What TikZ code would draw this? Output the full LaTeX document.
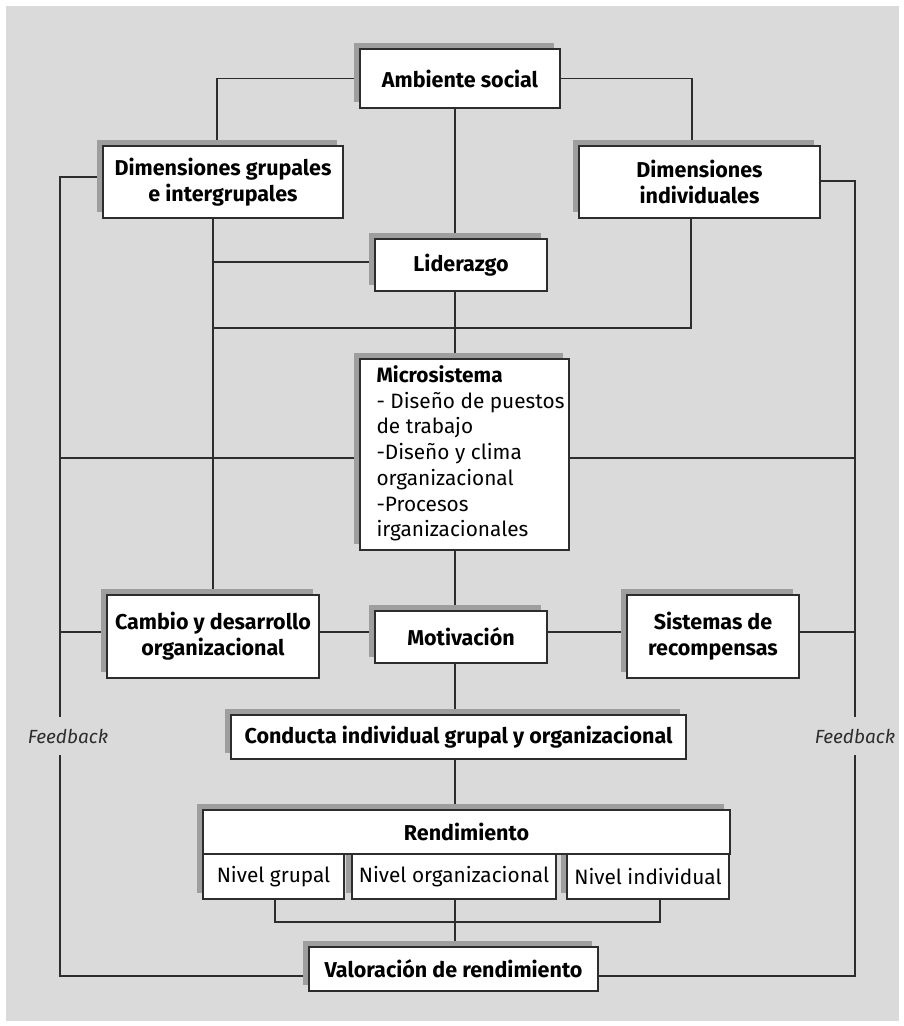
\documentclass[tikz,border=0pt]{standalone}
\usepackage{fontspec}
\setmainfont{Fira Sans}
\usetikzlibrary{positioning, backgrounds, shadows}
\definecolor{panelgray}{RGB}{218, 218, 218}
\definecolor{shadowgray}{RGB}{158, 158, 158}
\definecolor{linegray}{RGB}{45, 45, 45}
\tikzset{
    box/.style={draw=linegray, line width=1.2pt, fill=white, align=center, inner sep=0pt, font=\fontsize{21.5}{26}\selectfont\bfseries, drop shadow={shadow xshift=-6pt, shadow yshift=6pt, fill=shadowgray, opacity=1}},
    plainbox/.style={box, font=\fontsize{20.8}{25.7}\selectfont},
    boxdim/.style 2 args={minimum width=#1, minimum height=#2},
    link/.style={draw=linegray, line width=1.2pt},
    fb/.style={font=\fontsize{19}{26}\selectfont\itshape, text=linegray, inner xsep=2pt, inner ysep=12pt}
}

\begin{document}
\begin{tikzpicture}[x=1pt, y=-1pt]
\useasboundingbox (0,0) rectangle (903,1026);
\begin{scope}[on background layer]
\fill[panelgray] (6,6) rectangle (899,1021);
\end{scope}

% Entorno y dimensiones
\node[box, boxdim={200pt}{59pt}] (amb) at (460,78.5) {Ambiente social};
\node[box, boxdim={240pt}{72pt}] (dimg) at (223,182) {Dimensiones grupales\\e intergrupales};
\node[box, boxdim={241pt}{72pt}] (dimi) at (699.5,182) {Dimensiones\\individuales};
\node[box, boxdim={172pt}{52pt}] (lid) at (461,265) {Liderazgo};

% Microsistema
\node[plainbox, boxdim={209pt}{191pt}] (micro) at (464.5,454.5) {\begin{tabular}{@{\hspace{12pt}}l@{}}\textbf{Microsistema}\\- Diseño de puestos\\de trabajo\\-Diseño y clima\\organizacional\\-Procesos\\irganizacionales\end{tabular}};

% Fila de motivacion
\node[box, boxdim={212pt}{83pt}] (cambio) at (213,636.5) {Cambio y desarrollo\\organizacional};
\node[box, boxdim={172pt}{52pt}] (motiv) at (461,637) {Motivación};
\node[box, boxdim={172pt}{83pt}] (sist) at (713,636.5) {Sistemas de\\recompensas};
\node[box, boxdim={455pt}{44pt}] (cond) at (458.5,737) {Conducta individual grupal y organizacional};

% Rendimiento y niveles
\node[plainbox, boxdim={141pt}{45pt}] (ng) at (273.5,876.5) {Nivel grupal};
\node[plainbox, boxdim={204pt}{45pt}] (no) at (454,876.5) {Nivel organizacional};
\node[plainbox, boxdim={162pt}{45pt}] (ni) at (648,876.5) {Nivel individual};
\node[box, boxdim={527pt}{44pt}] (rend) at (466.5,832) {Rendimiento};
\node[box, boxdim={289pt}{44pt}] (val) at (453.5,969) {Valoración de rendimiento};

% Feedback
\node[fb] (fbl) at (68,736) {Feedback};
\node[fb] (fbr) at (855,736) {Feedback};

% columnas y filas de las lineas
\coordinate (axis) at (455,0);
\coordinate (railL) at (60,0);
\coordinate (railR) at (855,0);
\coordinate (colG) at (217,0);
\coordinate (colI) at (692,0);
\coordinate (colGb) at (213,0);
\coordinate (colIb) at (691,0);
\coordinate (colNg) at (275,0);
\coordinate (colNi) at (660,0);
\coordinate (rowG) at (0,177);
\coordinate (rowI) at (0,181);
\coordinate (rowL) at (0,262);
\coordinate (rowJ) at (0,328);
\coordinate (rowX) at (0,458);
\coordinate (rowM) at (0,632);
\coordinate (rowN) at (0,922);
\coordinate (rowV) at (0,976);

\begin{scope}[on background layer]
% ramas superiores
\draw[link] (amb.west) -| (colG |- dimg.north);
\draw[link] (amb.east) -| (colI |- dimi.north);
% eje central
\draw[link] (axis |- amb.south) -- (axis |- lid.north);
\draw[link] (axis |- lid.south) -- (axis |- micro.north);
\draw[link] (axis |- micro.south) -- (axis |- motiv.north);
\draw[link] (axis |- motiv.south) -- (axis |- cond.north);
\draw[link] (axis |- cond.south) -- (axis |- rend.north);
\draw[link] (axis |- no.south) -- (axis |- val.north);
% columna grupal
\draw[link] (colGb |- dimg.south) -- (colGb |- cambio.north);
\draw[link] (colGb |- rowL) -- (lid.west |- rowL);
\draw[link] (colGb |- rowJ) -| (colIb |- dimi.south);
% laterales de feedback
\draw[link] (dimg.west |- rowG) -| (railL |- fbl.north);
\draw[link] (railL |- fbl.south) |- (val.west |- rowV);
\draw[link] (dimi.east |- rowI) -| (railR |- fbr.north);
\draw[link] (railR |- fbr.south) |- (val.east |- rowV);
\draw[link] (micro.west |- rowX) -- (railL |- rowX);
\draw[link] (micro.east |- rowX) -- (railR |- rowX);
% fila de motivacion
\draw[link] (railL |- rowM) -- (cambio.west |- rowM);
\draw[link] (cambio.east |- rowM) -- (motiv.west |- rowM);
\draw[link] (motiv.east |- rowM) -- (sist.west |- rowM);
\draw[link] (sist.east |- rowM) -- (railR |- rowM);
% niveles
\draw[link] (colNg |- ng.south) |- (colNi |- rowN) -- (colNi |- ni.south);
\end{scope}

\end{tikzpicture}
\end{document}
